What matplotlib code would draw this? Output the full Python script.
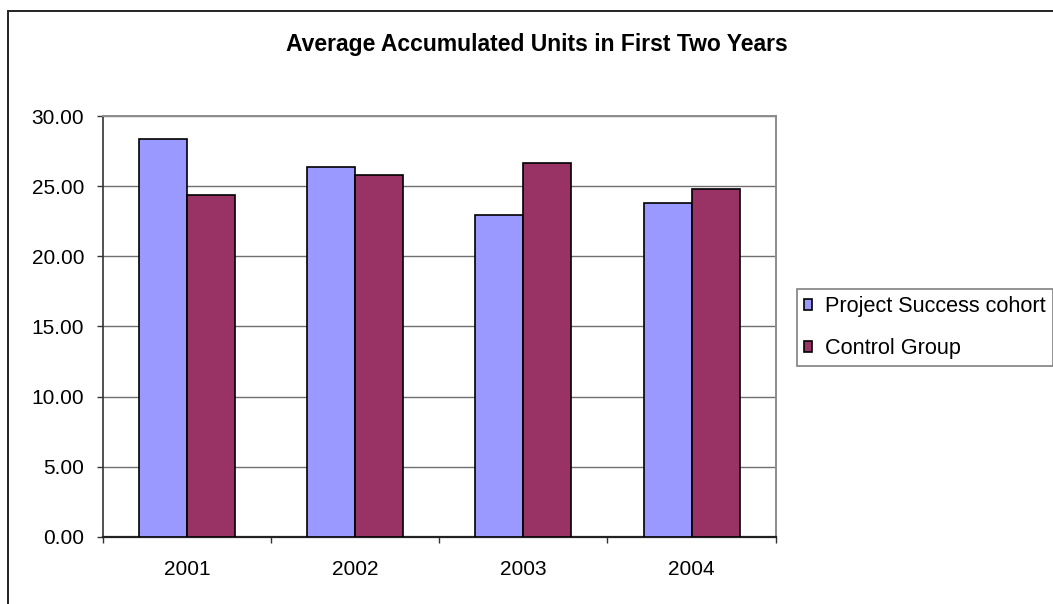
import matplotlib
matplotlib.use("Agg")
import matplotlib.pyplot as plt
from matplotlib.patches import Rectangle
import numpy as np

years = ["2001", "2002", "2003", "2004"]
project_success = [28.40, 26.40, 22.98, 23.83]
control_group = [24.40, 25.83, 26.68, 24.84]
series_names = ["Project Success cohort", "Control Group"]
y_ticks = [0, 5, 10, 15, 20, 25, 30]

plt.rcParams["font.family"] = ["Liberation Sans", "DejaVu Sans"]

W, H = 1053, 604
fig = plt.figure(figsize=(W / 100, H / 100), dpi=100)

# outer chart frame (runs past the right and bottom edges)
fig.patches.append(Rectangle((8 / W, -0.05), 1.2, 1 - 11 / H + 0.05,
                             transform=fig.transFigure, fill=False,
                             edgecolor="#222222", linewidth=1.4, zorder=0))

left, right, top, bottom = 102.8, 775.7, 116.3, 536.6
ax = fig.add_axes([left / W, 1 - bottom / H, (right - left) / W, (bottom - top) / H])

x = np.arange(len(years))
bw = 1 / 3.5
ax.bar(x - bw / 2, project_success, bw, color="#9999FF", edgecolor="black",
       linewidth=1.2, label=series_names[0], zorder=3)
ax.bar(x + bw / 2, control_group, bw, color="#993366", edgecolor="black",
       linewidth=1.2, label=series_names[1], zorder=3)

ax.set_xlim(-0.5, len(years) - 0.5)
ax.set_ylim(0, 30)
ax.set_yticks(y_ticks)
ax.set_yticklabels([f"{v:.2f}" for v in y_ticks])
ax.yaxis.grid(True, color="#707070", linewidth=1.0, zorder=0)
ax.set_axisbelow(True)

ax.set_xticks(x)
ax.set_xticklabels(years)
ax.set_xticks(np.arange(-0.5, len(years)), minor=True)
ax.tick_params(axis="x", which="major", length=0, pad=17, labelsize=15)
ax.tick_params(axis="x", which="minor", length=4.5, width=1.0, color="#333333")
ax.tick_params(axis="y", length=4.5, width=1.0, pad=9, labelsize=15, color="#333333")

for s in ("top", "right"):
    ax.spines[s].set_color("#8c8c8c")
    ax.spines[s].set_linewidth(1.4)
ax.spines["left"].set_color("#333333")
ax.spines["bottom"].set_color("#222222")
ax.spines["left"].set_linewidth(1.2)
ax.spines["bottom"].set_linewidth(1.6)

fig.text(537 / W, 1 - 51 / H, "Average Accumulated Units in First Two Years",
         ha="center", va="baseline", fontsize=16.5, fontweight="bold")

leg = fig.legend(loc="upper left", bbox_to_anchor=(796.7 / W, 1 - 289 / H),
                 fontsize=15.6, frameon=True, fancybox=False, framealpha=1,
                 edgecolor="#808080", handlelength=0.38, handleheight=0.38,
                 handletextpad=0.6, borderpad=0.34, labelspacing=0.95,
                 borderaxespad=0)
leg.get_frame().set_linewidth(1.2)
for h in leg.legend_handles:
    h.set_linewidth(1.2)

fig.savefig("out.png", dpi=100)
